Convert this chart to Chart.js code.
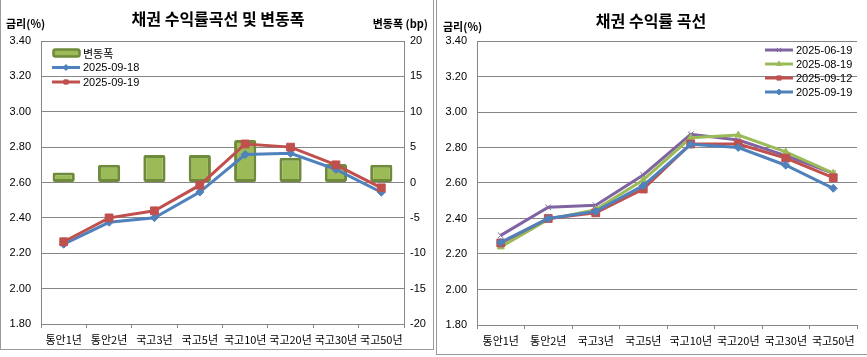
<!DOCTYPE html>
<html><head><meta charset="utf-8">
<script src="https://cdn.jsdelivr.net/npm/chart.js@4.4.1/dist/chart.umd.min.js"></script>
<style>
html,body{margin:0;padding:0;background:#fff;overflow:hidden;}
body{width:867px;height:357px;position:relative;}
.panel{position:absolute;box-sizing:border-box;border:1px solid #9a9a9a;}
#p1{left:0;top:-2px;width:434px;height:352px;}
#p2{left:436px;top:-2px;width:440px;height:357px;}
#c1{position:absolute;left:0;top:0;}
#c2{position:absolute;left:434px;top:0;}
</style></head><body>
<div class="panel" id="p1"></div><div class="panel" id="p2"></div>
<canvas id="c1" width="434" height="350"></canvas>
<canvas id="c2" width="433" height="350"></canvas>
<script>
// ---- data ----
const categories = ['통안1년','통안2년','국고3년','국고5년','국고10년','국고20년','국고30년','국고50년'];
const change_bp  = [1.4, 2.5, 3.9, 3.9, 6.0, 3.5, 2.6, 2.5];
const y_2025_09_18 = [2.251, 2.375, 2.401, 2.546, 2.758, 2.765, 2.674, 2.545];
const y_2025_09_19 = [2.265, 2.400, 2.440, 2.585, 2.818, 2.800, 2.700, 2.570];
const y_2025_06_19 = [2.305, 2.463, 2.475, 2.645, 2.874, 2.842, 2.754, 2.655];
const y_2025_08_19 = [2.240, 2.395, 2.450, 2.617, 2.855, 2.870, 2.775, 2.655];
const y_2025_09_12 = [2.262, 2.400, 2.432, 2.566, 2.820, 2.820, 2.740, 2.630];

const BLUE='#4F81BD', RED='#C0504D', GREEN='#9BBB59', PURPLE='#8064A2', GRID='#868686';
const NUMFONT = "'Liberation Sans', 'Noto Sans CJK KR', sans-serif";
const KRFONT = "'Noto Sans CJK KR', sans-serif";

const cornerLegend = {
  id:'cornerLegend',
  afterDatasetsDraw(chart, args, o){
    if(!o || !o.show) return;
    const ctx=chart.ctx, a=chart.chartArea;
    const x0 = o.fromRight ? a.right - o.dx : a.left + o.dx;
    let y = a.top + o.dy;
    ctx.save();
    chart.data.datasets.forEach(ds=>{
      if(ds.type==='bar'){
        ctx.fillStyle=ds.backgroundColor; ctx.strokeStyle=ds.borderColor; ctx.lineWidth=2.5;
        ctx.beginPath(); ctx.roundRect(x0+1.5, y-3.5, 26, 7, 2); ctx.fill(); ctx.stroke();
      } else {
        ctx.strokeStyle=ds.borderColor; ctx.lineWidth=3;
        ctx.beginPath(); ctx.moveTo(x0,y); ctx.lineTo(x0+28,y); ctx.stroke();
        ctx.fillStyle=ds.backgroundColor; ctx.strokeStyle=ds.borderColor; ctx.lineWidth=1;
        Chart.helpers.drawPoint(ctx,{pointStyle:ds.pointStyle, radius:3, borderWidth:1, rotation:0}, x0+14, y);
      }
      ctx.fillStyle='#000'; ctx.textBaseline='middle'; ctx.textAlign='left';
      ctx.font = '11px ' + (/^[0-9]/.test(ds.label) ? NUMFONT : KRFONT);
      ctx.fillText(ds.label, x0+31, y+0.5);
      y += o.spacing;
    });
    ctx.restore();
  }
};
const texts = {
  id:'texts',
  afterDraw(chart, args, o){
    if(!o || !o.items) return;
    const ctx=chart.ctx; ctx.save();
    o.items.forEach(t=>{
      ctx.font=t.font; ctx.fillStyle='#000'; ctx.textAlign=t.align; ctx.textBaseline='middle';
      ctx.fillText(t.text, t.x, t.y);
    });
    ctx.restore();
  }
};
Chart.register(cornerLegend, texts);

function xScale(h){
  return {
    type:'category', offset:true,
    grid:{display:true, drawOnChartArea:false, drawTicks:true, tickLength:4, offset:true, color:GRID},
    border:{display:true, color:GRID},
    ticks:{color:'#000', font:{family:KRFONT, size:11}, padding:5, maxRotation:0, autoSkip:false},
    afterFit(s){ s.height=h; }
  };
}
function yScale(pos, min, max, step, w, dec, onArea){
  return {
    position:pos, min:min, max:max,
    grid:{display:true, drawOnChartArea:onArea, drawTicks:false, color:GRID},
    border:{display:true, color:GRID},
    ticks:{stepSize:step, color:'#000', font:{family:NUMFONT, size:11}, padding: pos==='left'?10:6,
           callback:v=>dec? Number(v).toFixed(dec) : String(v)},
    afterFit(s){ s.width=w; }
  };
}
function lineDs(label, data, color, style, r, order){
  return {type:'line', label, data, borderColor:color, backgroundColor:color, borderWidth:3,
    pointStyle:style, pointRadius:r, pointHoverRadius:r, pointBorderWidth:1, pointBorderColor:color,
    pointBackgroundColor:color, tension:0, yAxisID:'y', order};
}

new Chart(document.getElementById('c1'), {
  data:{ labels:categories, datasets:[
    {type:'bar', label:'변동폭', data:change_bp, backgroundColor:GREEN, borderColor:'#6E8A3A',
     borderWidth:3, borderSkipped:false, borderRadius:2, categoryPercentage:1, barPercentage:0.49, yAxisID:'y2', order:3},
    lineDs('2025-09-18', y_2025_09_18, BLUE, 'rectRot', 4, 2),
    lineDs('2025-09-19', y_2025_09_19, RED, 'rect', 5.5, 1)
  ]},
  options:{
    responsive:false, animation:false, events:[],
    layout:{padding:{left:0,right:0,top:41,bottom:0}},
    scales:{ x:xScale(26), y:yScale('left',1.8,3.4,0.2,41,2,true), y2:yScale('right',-20,20,5,30,0,false) },
    plugins:{ legend:{display:false}, tooltip:{enabled:false},
      cornerLegend:{show:true, fromRight:false, dx:11, dy:12, spacing:14.5},
      texts:{items:[
        {text:'채권 수익률곡선 및 변동폭', x:218, y:19, font:"bold 16px "+KRFONT, align:'center'},
        {text:'금리(%)', x:6, y:24, font:"bold 11px "+KRFONT, align:'left'},
        {text:'변동폭 (bp)', x:428, y:24, font:"bold 11px "+KRFONT, align:'right'}
      ]}
    }
  }
});

new Chart(document.getElementById('c2'), {
  data:{ labels:categories, datasets:[
    lineDs('2025-06-19', y_2025_06_19, PURPLE, 'crossRot', 4, 4),
    lineDs('2025-08-19', y_2025_08_19, GREEN, 'triangle', 4, 3),
    lineDs('2025-09-12', y_2025_09_12, RED, 'rect', 5.5, 2),
    lineDs('2025-09-19', y_2025_09_19, BLUE, 'rectRot', 4, 1)
  ]},
  options:{
    responsive:false, animation:false, events:[],
    layout:{padding:{left:0,right:10,top:41,bottom:0}},
    scales:{ x:xScale(25), y:yScale('left',1.8,3.4,0.2,43,2,true) },
    plugins:{ legend:{display:false}, tooltip:{enabled:false},
      cornerLegend:{show:true, fromRight:true, dx:92, dy:9, spacing:14},
      texts:{items:[
        {text:'채권 수익률 곡선', x:217, y:21, font:"bold 16px "+KRFONT, align:'center'},
        {text:'금리(%)', x:9, y:27, font:"bold 11px "+KRFONT, align:'left'}
      ]}
    }
  }
});
</script>
</body></html>
